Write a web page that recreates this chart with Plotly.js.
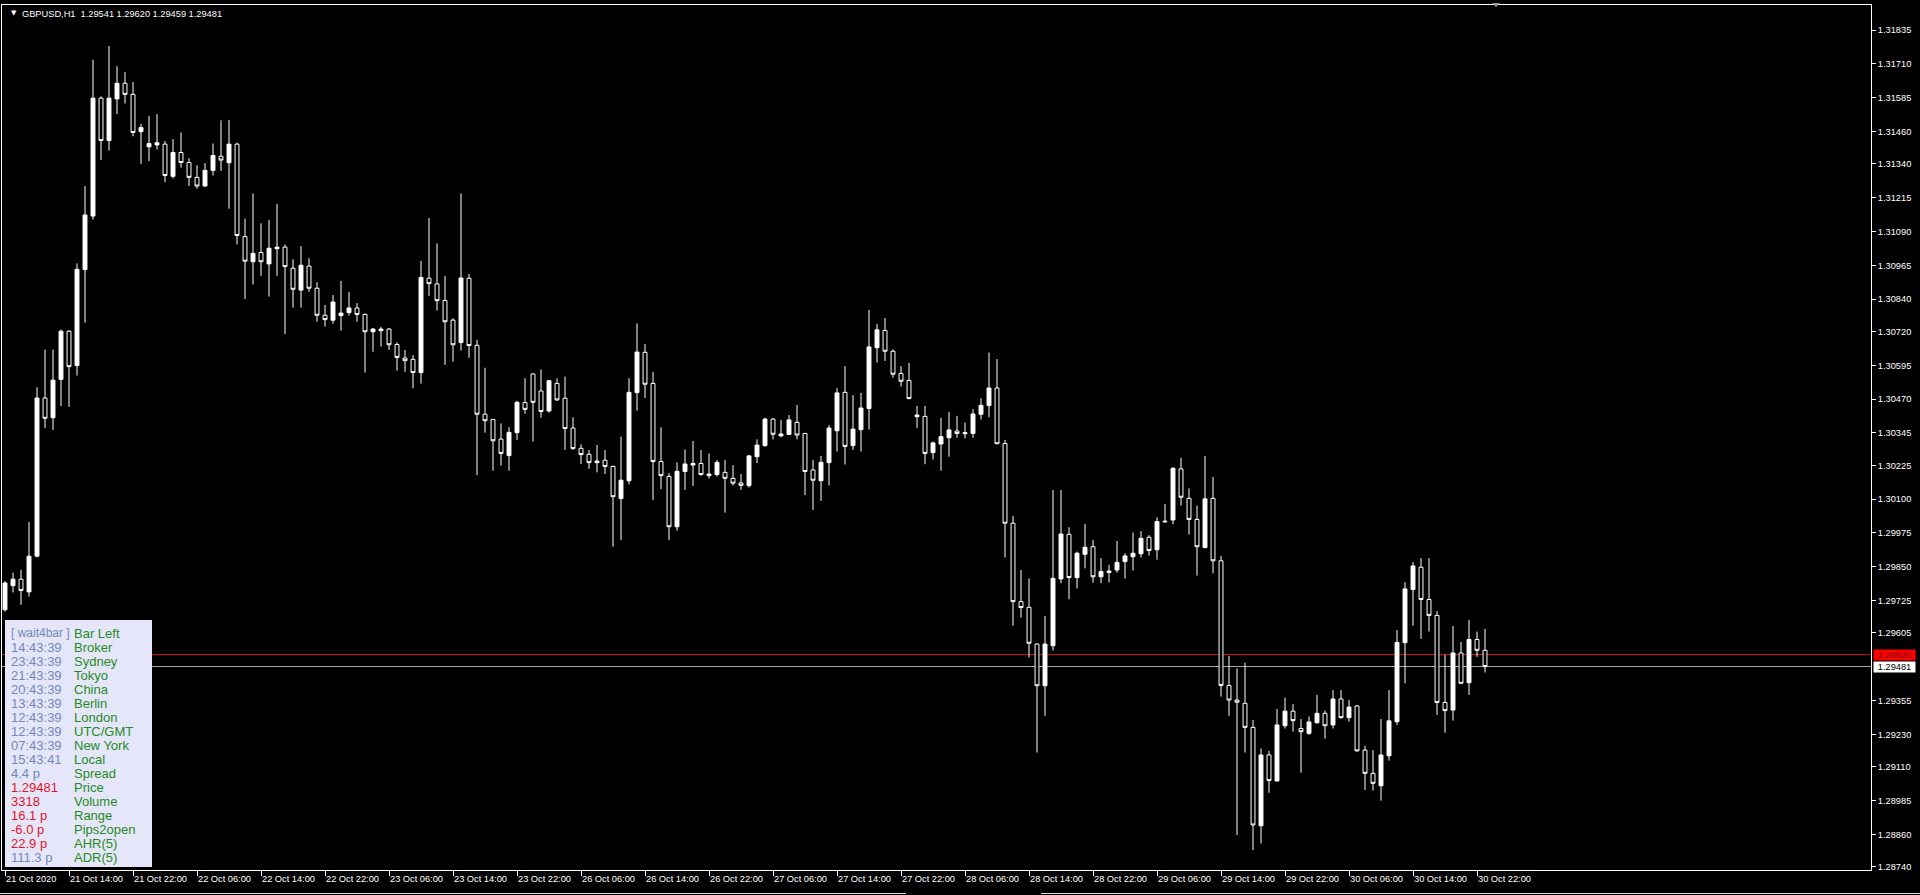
<!DOCTYPE html>
<html><head><meta charset="utf-8">
<script src="https://cdn.plot.ly/plotly-3.0.1.min.js"></script>
<style>html,body{margin:0;padding:0;background:#000;overflow:hidden}#chart{width:1920px;height:895px}</style>
</head><body><div id="chart"></div>
<script>
const symbolTitle = "GBPUSD,H1  1.29541 1.29620 1.29459 1.29481";

const barOpen = [
1.29691,1.29780,1.29804,1.29757,1.29889,1.30474,1.30401,1.30543,1.30721,1.30594,
1.30949,1.31147,1.31583,1.31426,1.31580,1.31638,1.31597,1.31459,1.31403,1.31410,
1.31413,1.31294,1.31382,1.31345,1.31290,1.31258,1.31316,1.31368,1.31344,1.31413,
1.31071,1.30978,1.31012,1.30970,1.31026,1.31032,1.30954,1.30873,1.30962,1.30880,
1.30780,1.30762,1.30779,1.30790,1.30807,1.30783,1.30719,1.30723,1.30729,1.30672,
1.30622,1.30617,1.30568,1.30917,1.30896,1.30835,1.30762,1.30679,1.30917,1.30669,
1.30414,1.30395,1.30322,1.30261,1.30346,1.30457,1.30563,1.30500,1.30426,1.30528,
1.30473,1.30363,1.30288,1.30266,1.30235,1.30244,1.30221,1.30102,1.30168,1.30494,
1.30643,1.30528,1.30239,1.30184,1.29998,1.30202,1.30226,1.30232,1.30187,1.30191,
1.30199,1.30177,1.30160,1.30150,1.30257,1.30298,1.30396,1.30334,1.30339,1.30384,
1.30343,1.30208,1.30168,1.30235,1.30353,1.30495,1.30298,1.30357,1.30435,1.30660,
1.30724,1.30647,1.30565,1.30539,1.30405,1.30406,1.30272,1.30304,1.30327,1.30352,
1.30342,1.30343,1.30414,1.30446,1.30511,1.30306,1.30011,1.29721,1.29700,1.29564,
1.29410,1.29558,1.29805,1.29970,1.29810,1.29896,1.29924,1.29813,1.29829,1.29838,
1.29869,1.29887,1.29898,1.29959,1.29913,1.30016,1.30023,1.30212,1.30103,1.30025,
1.29921,1.30103,1.29872,1.29411,1.29357,1.29345,1.29256,1.28892,1.29154,1.29058,
1.29262,1.29316,1.29252,1.29234,1.29273,1.29308,1.29265,1.29361,1.29292,1.29335,
1.29172,1.29086,1.29040,1.29151,1.29277,1.29569,1.29766,1.29848,1.29729,1.29670,
1.29348,1.29320,1.29531,1.29421,1.29581,1.29541];

const barHigh = [
1.29797,1.29828,1.29839,1.30016,1.30514,1.30653,1.30653,1.30727,1.30725,1.30972,
1.31258,1.31725,1.31590,1.31776,1.31701,1.31679,1.31643,1.31488,1.31517,1.31524,
1.31425,1.31432,1.31456,1.31361,1.31335,1.31343,1.31415,1.31501,1.31502,1.31418,
1.31137,1.31231,1.31120,1.31132,1.31192,1.31042,1.30987,1.31036,1.30991,1.30902,
1.30818,1.30855,1.30907,1.30866,1.30825,1.30787,1.30732,1.30737,1.30733,1.30680,
1.30652,1.30633,1.30981,1.31140,1.31046,1.30925,1.30769,1.31231,1.30933,1.30689,
1.30586,1.30395,1.30380,1.30366,1.30464,1.30547,1.30565,1.30580,1.30541,1.30547,
1.30553,1.30403,1.30303,1.30282,1.30300,1.30282,1.30224,1.30331,1.30547,1.30750,
1.30674,1.30570,1.30366,1.30196,1.30236,1.30284,1.30315,1.30282,1.30269,1.30245,
1.30245,1.30226,1.30193,1.30263,1.30321,1.30401,1.30400,1.30393,1.30411,1.30448,
1.30345,1.30245,1.30260,1.30374,1.30510,1.30592,1.30485,1.30493,1.30800,1.30748,
1.30770,1.30654,1.30592,1.30604,1.30445,1.30445,1.30313,1.30401,1.30422,1.30408,
1.30383,1.30433,1.30473,1.30642,1.30618,1.30319,1.30038,1.29838,1.29807,1.29567,
1.29668,1.30134,1.30134,1.29996,1.29906,1.30008,1.29949,1.29882,1.29857,1.29945,
1.29900,1.29976,1.29982,1.29967,1.30033,1.30082,1.30218,1.30253,1.30140,1.30076,
1.30260,1.30182,1.29890,1.29520,1.29474,1.29495,1.29283,1.29178,1.29169,1.29324,
1.29366,1.29342,1.29287,1.29296,1.29376,1.29318,1.29394,1.29394,1.29357,1.29339,
1.29188,1.29172,1.29287,1.29394,1.29616,1.29793,1.29867,1.29882,1.29882,1.29686,
1.29524,1.29631,1.29572,1.29653,1.29610,1.29620];

const barLow = [
1.29684,1.29755,1.29709,1.29740,1.29885,1.30363,1.30356,1.30444,1.30441,1.30557,
1.30752,1.31134,1.31354,1.31389,1.31524,1.31563,1.31442,1.31340,1.31350,1.31393,
1.31272,1.31286,1.31326,1.31258,1.31248,1.31255,1.31297,1.31314,1.31174,1.31042,
1.30840,1.30894,1.30926,1.30849,1.30926,1.30710,1.30808,1.30808,1.30867,1.30756,
1.30738,1.30749,1.30723,1.30779,1.30756,1.30568,1.30645,1.30664,1.30652,1.30575,
1.30571,1.30510,1.30527,1.30852,1.30797,1.30596,1.30608,1.30649,1.30623,1.30189,
1.30346,1.30205,1.30224,1.30205,1.30319,1.30416,1.30313,1.30401,1.30420,1.30463,
1.30282,1.30282,1.30230,1.30212,1.30199,1.30193,1.29924,1.29949,1.30155,1.30427,
1.30474,1.30097,1.30137,1.29949,1.29983,1.30134,1.30149,1.30186,1.30176,1.30183,
1.30050,1.30150,1.30134,1.30143,1.30233,1.30294,1.30321,1.30329,1.30337,1.30321,
1.30115,1.30060,1.30093,1.30150,1.30276,1.30228,1.30282,1.30276,1.30357,1.30605,
1.30611,1.30549,1.30516,1.30469,1.30364,1.30229,1.30247,1.30205,1.30257,1.30327,
1.30325,1.30327,1.30395,1.30403,1.30303,1.29884,1.29632,1.29662,1.29515,1.29163,
1.29299,1.29540,1.29789,1.29730,1.29770,1.29844,1.29791,1.29789,1.29792,1.29828,
1.29806,1.29836,1.29884,1.29891,1.29876,1.30013,1.30007,1.30076,1.29969,1.29817,
1.29918,1.29826,1.29370,1.29299,1.28858,1.29163,1.28802,1.28827,1.29014,1.29055,
1.29252,1.29240,1.29088,1.29228,1.29270,1.29214,1.29252,1.29288,1.29277,1.29166,
1.29024,1.29022,1.28985,1.29133,1.29265,1.29419,1.29632,1.29583,1.29610,1.29302,
1.29236,1.29281,1.29416,1.29376,1.29517,1.29459];

const barClose = [
1.29790,1.29804,1.29762,1.29889,1.30474,1.30399,1.30540,1.30721,1.30590,1.30950,
1.31151,1.31583,1.31426,1.31583,1.31638,1.31597,1.31456,1.31474,1.31415,1.31418,
1.31297,1.31382,1.31345,1.31290,1.31258,1.31316,1.31371,1.31354,1.31413,1.31075,
1.30980,1.31009,1.30978,1.31028,1.31032,1.30960,1.30876,1.30965,1.30880,1.30780,
1.30764,1.30829,1.30788,1.30807,1.30783,1.30719,1.30729,1.30729,1.30671,1.30624,
1.30612,1.30568,1.30920,1.30897,1.30834,1.30756,1.30671,1.30918,1.30668,1.30414,
1.30390,1.30316,1.30269,1.30347,1.30458,1.30432,1.30458,1.30424,1.30538,1.30467,
1.30361,1.30287,1.30265,1.30235,1.30241,1.30221,1.30109,1.30170,1.30495,1.30644,
1.30525,1.30239,1.30187,1.29998,1.30203,1.30230,1.30232,1.30191,1.30193,1.30236,
1.30177,1.30159,1.30151,1.30260,1.30300,1.30396,1.30340,1.30341,1.30393,1.30337,
1.30202,1.30170,1.30236,1.30363,1.30493,1.30295,1.30359,1.30437,1.30663,1.30726,
1.30647,1.30562,1.30536,1.30472,1.30411,1.30269,1.30308,1.30331,1.30356,1.30343,
1.30346,1.30415,1.30447,1.30511,1.30305,1.30011,1.29721,1.29699,1.29567,1.29410,
1.29564,1.29807,1.29971,1.29810,1.29900,1.29922,1.29813,1.29832,1.29834,1.29866,
1.29890,1.29900,1.29955,1.29910,1.30017,1.30018,1.30214,1.30107,1.30025,1.29924,
1.30101,1.29872,1.29411,1.29357,1.29349,1.29256,1.28895,1.29154,1.29059,1.29265,
1.29316,1.29281,1.29240,1.29276,1.29308,1.29262,1.29361,1.29292,1.29331,1.29169,
1.29086,1.29049,1.29154,1.29280,1.29570,1.29768,1.29853,1.29729,1.29670,1.29348,
1.29318,1.29531,1.29419,1.29581,1.29541,1.29481];

const timeTickIndex = [0,8,16,24,32,40,48,56,64,72,80,88,96,104,112,120,128,136,144,152,160,168,176,184];
const timeTickLabels = ["21 Oct 2020","21 Oct 14:00","21 Oct 22:00","22 Oct 06:00","22 Oct 14:00","22 Oct 22:00",
"23 Oct 06:00","23 Oct 14:00","23 Oct 22:00","26 Oct 06:00","26 Oct 14:00","26 Oct 22:00",
"27 Oct 06:00","27 Oct 14:00","27 Oct 22:00","28 Oct 06:00","28 Oct 14:00","28 Oct 22:00",
"29 Oct 06:00","29 Oct 14:00","29 Oct 22:00","30 Oct 06:00","30 Oct 14:00","30 Oct 22:00"];

const priceTicks = [1.31835,1.31710,1.31585,1.31460,1.31340,1.31215,1.31090,1.30965,1.30840,1.30720,
1.30595,1.30470,1.30345,1.30225,1.30100,1.29975,1.29850,1.29725,1.29605,1.29355,1.29230,1.29110,
1.28985,1.28860,1.28740];

const askPrice = 1.29525;
const bidPrice = 1.29481;

const panelValues = ["[ wait4bar ]","14:43:39","23:43:39","21:43:39","20:43:39","13:43:39","12:43:39","12:43:39",
"07:43:39","15:43:41","4.4 p","1.29481","3318","16.1 p","-6.0 p","22.9 p","111.3 p"];
const panelLabels = ["Bar Left","Broker","Sydney","Tokyo","China","Berlin","London","UTC/GMT","New York","Local",
"Spread","Price","Volume","Range","Pips2open","AHR(5)","ADR(5)"];
const panelValueKinds = ["info","info","info","info","info","info","info","info","info","info","info",
"alert","alert","alert","alert","alert","info"];

// ---- layout geometry (pixels) ----
const PL = 2, PR = 1871, PT = 5, PB = 870;
const pxPerBar = 8, firstBarPx = 5;
const pxPerUnit = 27040, refPrice = 1.31835, refPx = 30;
const xr = [(PL - firstBarPx) / pxPerBar, (PR - firstBarPx) / pxPerBar];
const yr = [refPrice - (PB - refPx) / pxPerUnit, refPrice + (refPx - PT) / pxPerUnit];
const fx = px => (px - PL) / (PR - PL);
const fy = py => (PB - py) / (PB - PT);

const barIndex = barOpen.map((_, i) => i);
const FONT = "Liberation Sans, Arial, sans-serif";

const trace = {
  type: 'candlestick',
  x: barIndex, open: barOpen, high: barHigh, low: barLow, close: barClose,
  increasing: {line: {color: '#ffffff', width: 1}, fillcolor: '#ffffff'},
  decreasing: {line: {color: '#ffffff', width: 1}, fillcolor: '#000000'},
  whiskerwidth: 0,
  hoverinfo: 'none'
};

const kindColor = {info: '#7189b8', alert: '#e3132c'};
const annotations = [];
// title
annotations.push({xref:'paper', yref:'paper', x: fx(8.5), y: fy(13), xanchor:'left', yanchor:'middle',
  text:'▼', showarrow:false, font:{family:'DejaVu Sans', size:7, color:'#ffffff'}});
annotations.push({xref:'paper', yref:'paper', x: fx(20), y: fy(13.5), xanchor:'left', yanchor:'middle',
  text: symbolTitle.replace(/ /g,'&nbsp;'), showarrow:false, font:{family:FONT, size:9.25, color:'#ffffff'}});
// bid / ask labels
annotations.push({xref:'paper', yref:'y', x: fx(1873), y: askPrice, xanchor:'left', yanchor:'middle',
  text: askPrice.toFixed(5), showarrow:false, bgcolor:'#ff0000', width:41, height:10, borderpad:0,
  font:{family:FONT, size:9.25, color:'#800000'}});
annotations.push({xref:'paper', yref:'y', x: fx(1873), y: bidPrice, xanchor:'left', yanchor:'middle',
  text: bidPrice.toFixed(5), showarrow:false, bgcolor:'#ffffff', width:41, height:10, borderpad:0,
  font:{family:FONT, size:9.25, color:'#000000'}});
// info panel text
panelValues.forEach((v, k) => {
  const py = 633.3 + 14.02 * k;
  annotations.push({xref:'paper', yref:'paper', x: fx(9), y: fy(py), xanchor:'left', yanchor:'middle',
    text: v.replace(/ /g,'&nbsp;'), showarrow:false,
    font:{family:FONT, size: k === 0 ? 12 : 13, color: kindColor[panelValueKinds[k]]}});
  annotations.push({xref:'paper', yref:'paper', x: fx(72), y: fy(py), xanchor:'left', yanchor:'middle',
    text: panelLabels[k], showarrow:false, font:{family:FONT, size:13, color:'#1f8b1f'}});
});

const shapes = [
  {type:'line', xref:'paper', yref:'y', x0:0, x1:1, y0:askPrice, y1:askPrice, line:{color:'#d01818', width:1}, layer:'below'},
  {type:'line', xref:'paper', yref:'y', x0:0, x1:1, y0:bidPrice, y1:bidPrice, line:{color:'#a8a8a8', width:1}, layer:'below'},
  {type:'rect', xref:'paper', yref:'paper', x0:fx(5), x1:fx(152), y0:fy(867), y1:fy(620),
    fillcolor:'#e6e6fa', line:{width:0}, layer:'above'},
  {type:'path', xref:'paper', yref:'paper',
    path:`M ${fx(1492)} ${fy(3)} L ${fx(1500)} ${fy(3)} L ${fx(1496)} ${fy(7)} Z`,
    fillcolor:'#9a9a9a', line:{width:0}, layer:'above'},
  // window frame bits along the bottom edge
  {type:'line', xref:'paper', yref:'paper', x0:fx(0), x1:fx(906), y0:fy(893.5), y1:fy(893.5),
    line:{color:'#d8d8d8', width:1}, layer:'above'},
  {type:'line', xref:'paper', yref:'paper', x0:fx(1041), x1:fx(1920), y0:fy(893.5), y1:fy(893.5),
    line:{color:'#d8d8d8', width:1}, layer:'above'}
];

const layout = {
  width: 1920, height: 895,
  margin: {l: PL, r: 1920 - PR, t: PT, b: 895 - PB, pad: 0},
  paper_bgcolor: '#000000', plot_bgcolor: '#000000',
  showlegend: false, dragmode: false, hovermode: false,
  boxgap: 0.3, boxgroupgap: 0.3,
  xaxis: {
    range: xr, rangeslider: {visible: false}, type: 'linear',
    tickmode: 'array', tickvals: timeTickIndex, ticktext: timeTickLabels,
    ticks: 'outside', ticklen: 5, tickcolor: '#ffffff', tickwidth: 1,
    ticklabelposition: 'outside right',
    tickfont: {family: FONT, size: 9.25, color: '#ffffff'},
    showline: true, linecolor: '#ffffff', linewidth: 1, mirror: true,
    showgrid: false, zeroline: false, fixedrange: true
  },
  yaxis: {
    side: 'right', range: yr,
    tickmode: 'array', tickvals: priceTicks, ticktext: priceTicks.map(v => v.toFixed(5)),
    ticks: 'outside', ticklen: 4, tickcolor: '#ffffff', tickwidth: 1,
    tickfont: {family: FONT, size: 9.25, color: '#ffffff'},
    showline: true, linecolor: '#ffffff', linewidth: 1, mirror: true,
    showgrid: false, zeroline: false, fixedrange: true
  },
  annotations: annotations,
  shapes: shapes
};

Plotly.newPlot('chart', [trace], layout, {staticPlot: true, displayModeBar: false});
</script>
</body></html>
